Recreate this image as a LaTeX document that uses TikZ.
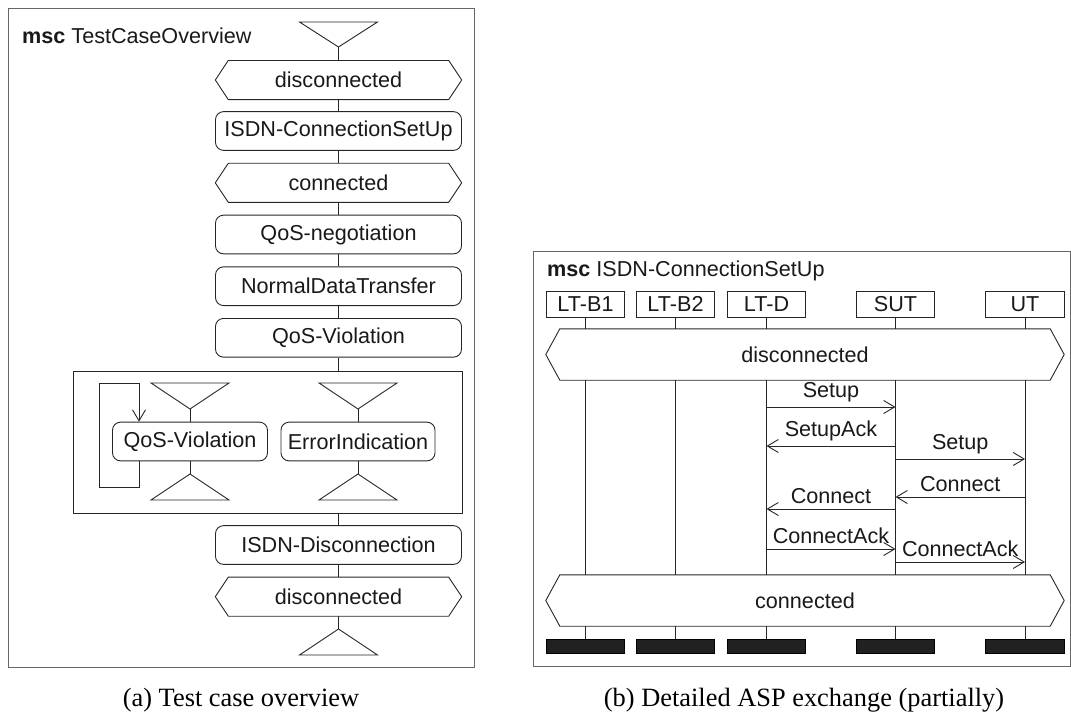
\documentclass[tikz,border=0pt]{standalone}
\usepackage{fontspec}
\setmainfont{Liberation Sans}
\newfontfamily\capfont{Liberation Serif}
\usetikzlibrary{arrows.meta}
\newcommand{\hexdraw}[2]{\draw[ln] ([xshift=#2]#1.north west) -- ([xshift=-#2]#1.north east) -- (#1.east) -- ([xshift=-#2]#1.south east) -- ([xshift=#2]#1.south west) -- (#1.west) -- cycle;}
\begin{document}
\begin{tikzpicture}[x=1pt,y=-1pt,
  ln/.style={draw=black!85, line width=0.9pt},
  txt/.style={font=\fontsize{21.6}{26}\selectfont, text=black!90},
  frame/.style={draw=black!60, line width=1.4pt, inner sep=0pt, anchor=north west},
  box/.style={ln, txt, rounded corners=8pt, minimum width=246pt, minimum height=38.7pt, inner sep=0pt},
  sbox/.style={box, minimum width=155pt},
  cond/.style={txt, minimum width=246pt, minimum height=38.7pt, inner sep=0pt},
  bigcond/.style={txt, minimum width=518pt, minimum height=51pt, inner sep=0pt},
  inst/.style={ln, txt, minimum width=78.5pt, minimum height=26pt, inner sep=0pt},
  endbar/.style={draw=black, line width=0.6pt, fill=black!87, minimum width=78.5pt, minimum height=14pt, inner sep=0pt},
  msg/.style={ln, -{Straight Barb[length=11pt,width=13pt]}},
  lbl/.style={txt, anchor=south, inner sep=0pt, yshift=5pt},
  captxt/.style={font=\capfont\fontsize{26.4}{30}\selectfont, anchor=base}
]
\useasboundingbox (0,0) rectangle (1071,715);

% ---------------- left: overview ----------------
\node[frame, minimum width=466pt, minimum height=659pt] (fa) at (8,8) {};
\node[txt, anchor=base west, inner sep=0pt] (ta) at (22,43) {\textbf{msc} TestCaseOverview};

\coordinate (st) at (338.5,47);
\draw[ln] (st) -- ++(-39,-25) -- ++(78,0) -- cycle;

\node[cond] (c1) at (338.5,80) {disconnected};
\node[box]  (b1) at (338.5,131) {ISDN-ConnectionSetUp};
\node[cond] (c2) at (338.5,182.8) {connected};
\node[box]  (b2) at (338.5,234.5) {QoS-negotiation};
\node[box]  (b3) at (338.5,286.2) {NormalDataTransfer};
\node[box]  (b4) at (338.5,337.8) {QoS-Violation};
\hexdraw{c1}{13pt}
\hexdraw{c2}{13pt}

\node[ln, minimum width=389pt, minimum height=142pt, inner sep=0pt, anchor=north west] (alt) at (73,371) {};

\coordinate (qa) at (190,409);
\coordinate (qe) at (190,474);
\coordinate (ea) at (358,409);
\coordinate (ee) at (358,474);
\draw[ln] (qa) -- ++(-39,-26) -- ++(78,0) -- cycle;
\draw[ln] (ea) -- ++(-39,-26) -- ++(78,0) -- cycle;
\draw[ln] (qe) -- ++(-39,26) -- ++(78,0) -- cycle;
\draw[ln] (ee) -- ++(-39,26) -- ++(78,0) -- cycle;
\node[sbox] (q) at (190,441.5) {QoS-Violation};
\node[sbox, minimum width=154pt] (e) at (358,441.5) {ErrorIndication};

\node[box]  (b5) at (338.5,545) {ISDN-Disconnection};
\node[cond] (c3) at (338.5,596.7) {disconnected};
\hexdraw{c3}{13pt}

\coordinate (en) at (338.5,629);
\draw[ln] (en) -- ++(-39,26) -- ++(78,0) -- cycle;

\draw[ln] (st) -- (c1);
\draw[ln] (c1) -- (b1);
\draw[ln] (b1) -- (c2);
\draw[ln] (c2) -- (b2);
\draw[ln] (b2) -- (b3);
\draw[ln] (b3) -- (b4);
\draw[ln] (b4.south) -- (b4.south |- alt.north);
\draw[ln] (qa) -- (q);
\draw[ln] (q) -- (qe);
\draw[ln] (ea) -- (e);
\draw[ln] (e) -- (ee);
\draw[ln] (b5.north |- alt.south) -- (b5.north);
\draw[ln] (b5) -- (c3);
\draw[ln] (c3) -- (en);

\coordinate (lx) at (139,0);
\draw[msg] (q.south -| lx) -- (lx |- 0,487) -- (99,487) -- (99,383) -- (lx |- 0,383) -- (q.north -| lx);

\node[captxt] (capa) at (241,706) {(a) Test case overview};

% ---------------- right: ISDN-ConnectionSetUp ----------------
\node[frame, minimum width=537pt, minimum height=415pt] (fb) at (533,251) {};
\node[txt, anchor=base west, inner sep=0pt] (tb) at (547,276) {\textbf{msc} ISDN-ConnectionSetUp};

\node[inst] (h1) at (585.5,304) {LT-B1};
\node[inst] (h2) at (675.5,304) {LT-B2};
\node[inst] (h3) at (766.5,304) {LT-D};
\node[inst] (h4) at (895.5,304) {SUT};
\node[inst] (h5) at (1025,304) {UT};

\node[bigcond] (dc) at (805,354.5) {disconnected};
\node[bigcond] (cc) at (805,600.5) {connected};
\hexdraw{dc}{14pt}
\hexdraw{cc}{14pt}

\node[endbar] (e1) at (585.5,646) {};
\node[endbar] (e2) at (675.5,646) {};
\node[endbar] (e3) at (766.5,646) {};
\node[endbar] (e4) at (895.5,646) {};
\node[endbar] (e5) at (1025,646) {};

\foreach \i in {1,...,5}{
  \draw[ln] (h\i) -- (h\i |- dc.north);
  \draw[ln] (h\i |- dc.south) -- (h\i |- cc.north);
  \draw[ln] (h\i |- cc.south) -- (e\i);
}

\draw[msg] (h3 |- 0,407) -- (h4 |- 0,407) node[lbl, midway] {Setup};
\draw[msg] (h4 |- 0,446) -- (h3 |- 0,446) node[lbl, midway] {SetupAck};
\draw[msg] (h4 |- 0,459) -- (h5 |- 0,459) node[lbl, midway] {Setup};
\draw[msg] (h5 |- 0,497) -- (h4 |- 0,497) node[lbl, midway] {Connect};
\draw[msg] (h4 |- 0,509) -- (h3 |- 0,509) node[lbl, midway] {Connect};
\draw[msg] (h3 |- 0,549) -- (h4 |- 0,549) node[lbl, midway] {ConnectAck};
\draw[msg] (h4 |- 0,562) -- (h5 |- 0,562) node[lbl, midway] {ConnectAck};

\node[captxt] (capb) at (804,706) {(b) Detailed ASP exchange (partially)};
\end{tikzpicture}
\end{document}
